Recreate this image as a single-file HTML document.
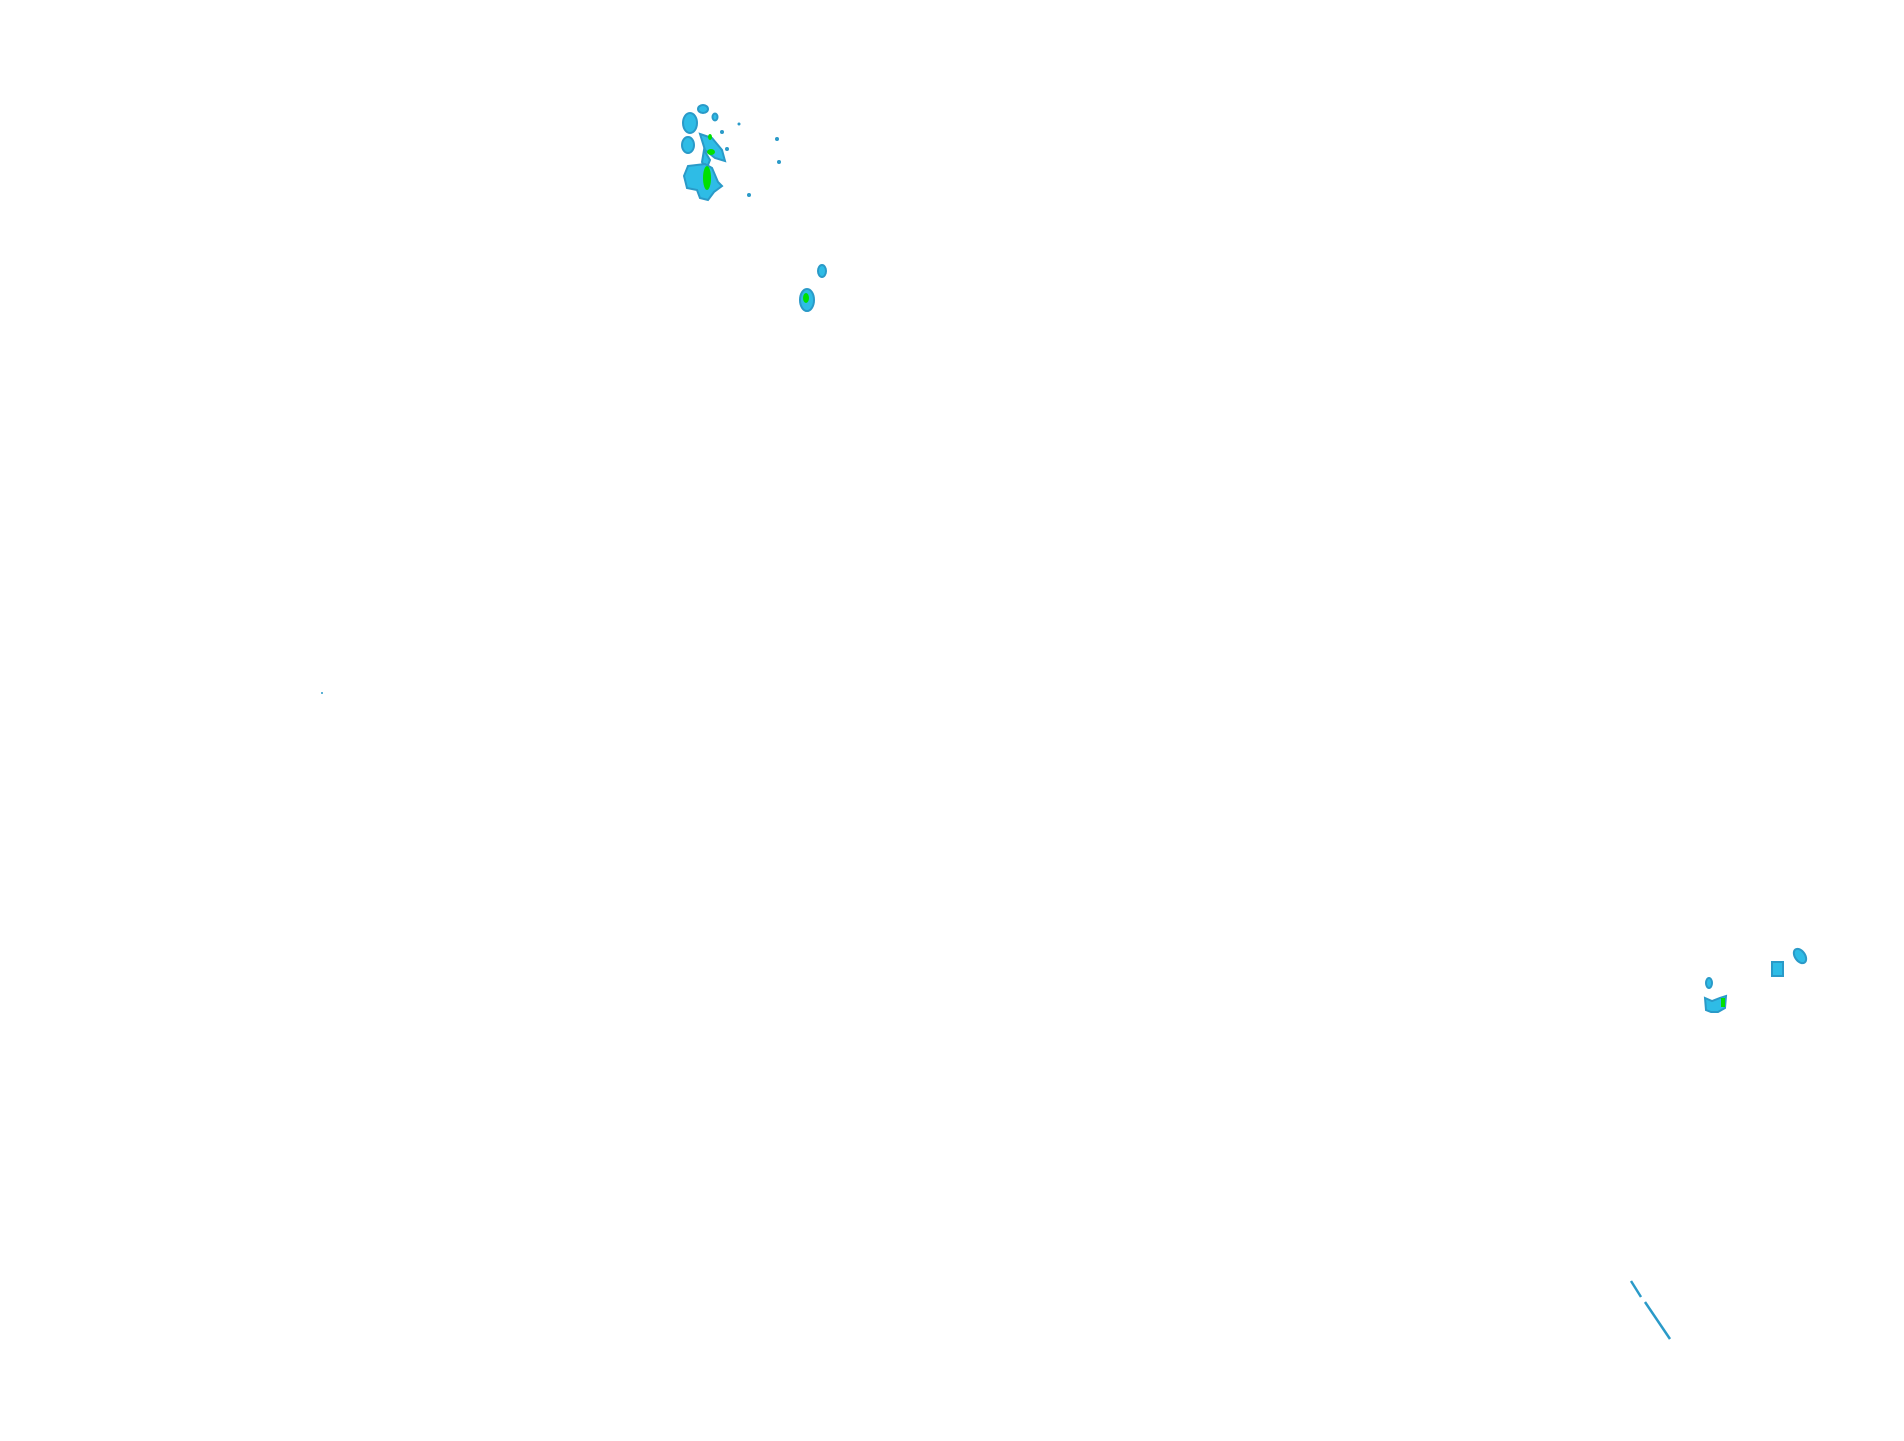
<!DOCTYPE html>
<html><head><meta charset="utf-8"><style>html,body{margin:0;padding:0;background:#fff;width:1904px;height:1441px;overflow:hidden}</style></head>
<body>
<svg width="1904" height="1441" xmlns="http://www.w3.org/2000/svg">
<g fill="#2ebce6" stroke="#2a9ac8" stroke-width="2">
<ellipse cx="703" cy="109" rx="5" ry="4"/>
<ellipse cx="715" cy="117" rx="2.5" ry="3.5"/>
<ellipse cx="690" cy="123" rx="7" ry="10"/>
<ellipse cx="688" cy="145" rx="6" ry="8"/>
<path d="M700 134 L712 138 L722 150 L725 161 L715 158 L705 150 Z"/>
<path d="M704 150 L710 160 L706 170 L702 162 Z"/>
<path d="M688 166 L705 164 L712 168 L718 182 L722 186 L714 192 L708 200 L700 198 L697 190 L687 188 L684 176 Z"/>
<ellipse cx="822" cy="271" rx="4" ry="6"/>
<ellipse cx="807" cy="300" rx="7" ry="11"/>
<ellipse cx="1800" cy="956" rx="5" ry="8" transform="rotate(-35 1800 956)"/>
<rect x="1772" y="962" width="11" height="14"/>
<ellipse cx="1709" cy="983" rx="3" ry="5"/>
<path d="M1705 998 L1712 1001 L1720 998 L1726 996 L1725 1008 L1718 1012 L1711 1012 L1706 1010 Z"/>
</g>
<g fill="#00e000">
<ellipse cx="707" cy="178" rx="4" ry="12"/>
<ellipse cx="711" cy="152" rx="4" ry="3"/>
<ellipse cx="710" cy="137" rx="2" ry="3"/>
<ellipse cx="806" cy="298" rx="3" ry="5"/>
<rect x="1721" y="998" width="4" height="9"/>
</g>
<g fill="#2a9ac8">
<circle cx="739" cy="124" r="1.5"/><circle cx="777" cy="139" r="2"/><circle cx="779" cy="162" r="2"/>
<circle cx="749" cy="195" r="2"/><circle cx="722" cy="132" r="2"/><circle cx="727" cy="149" r="2"/>
<circle cx="322" cy="693" r="1"/>
</g>
<g stroke="#2a9ac8" stroke-width="2.5" fill="none">
<line x1="1631" y1="1281" x2="1641" y2="1297"/>
<line x1="1645" y1="1302" x2="1670" y2="1339"/>
</g>
</svg>
</body></html>
